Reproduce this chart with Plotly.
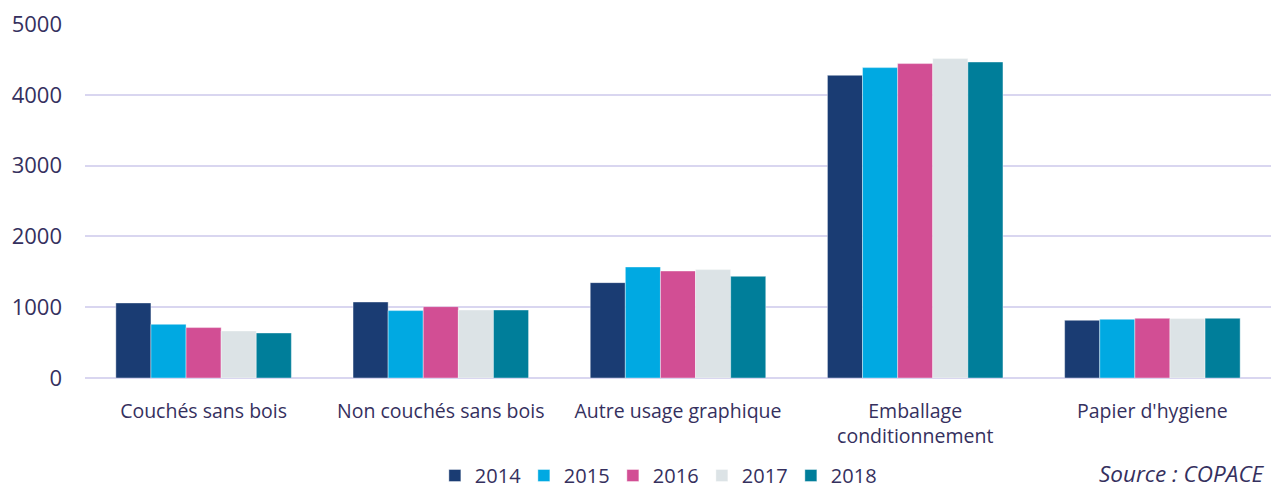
import plotly.graph_objects as go

categories = ["Couchés sans bois", "Non couchés sans bois", "Autre usage graphique",
              "Emballage<br>conditionnement", "Papier d'hygiene"]
years = ["2014", "2015", "2016", "2017", "2018"]
values_2014 = [1060, 1073, 1347, 4275, 815]
values_2015 = [758, 952, 1568, 4384, 829]
values_2016 = [712, 1008, 1511, 4441, 843]
values_2017 = [664, 960, 1531, 4511, 839]
values_2018 = [636, 960, 1436, 4463, 843]
series = [values_2014, values_2015, values_2016, values_2017, values_2018]
colors = ["#1a3c73", "#00a9e2", "#d24e94", "#dce3e6", "#007e9a"]
tick_vals = [0, 1000, 2000, 3000, 4000, 5000]

text_color = "#35305e"
font_family = "Open Sans, Noto Sans, sans-serif"

fig = go.Figure()
for y, vals, c in zip(years, series, colors):
    fig.add_trace(go.Bar(
        x=categories, y=vals, name=y,
        marker=dict(color=c, line=dict(color="rgba(255,255,255,0.5)", width=0.8)),
    ))

fig.update_layout(
    width=1271, height=488,
    margin=dict(l=85, r=0, t=24, b=110, autoexpand=False),
    paper_bgcolor="white", plot_bgcolor="white",
    barmode="group", bargap=0.26, bargroupgap=0,
    font=dict(family=font_family, color=text_color),
    showlegend=True,
    legend=dict(
        orientation="h", x=0.295, xanchor="left", y=-0.3305, yanchor="bottom",
        font=dict(size=20, color=text_color, family=font_family),
        traceorder="normal", itemwidth=30,
        entrywidth=44, entrywidthmode="pixels",
    ),
    xaxis=dict(
        showgrid=False, showline=False, ticks="", ticklabelstandoff=19,
        tickfont=dict(size=19.5, color=text_color),
    ),
    yaxis=dict(
        range=[0, 5000], tickvals=tick_vals,
        showgrid=True, gridcolor="#d9d6f0", gridwidth=1.5,
        zeroline=True, zerolinecolor="#d9d6f0", zerolinewidth=1.5,
        showline=False, ticks="", ticklabelstandoff=22,
        tickfont=dict(size=22, color=text_color),
    ),
    annotations=[dict(
        text="<i>Source : COPACE</i>", xref="paper", yref="paper",
        x=0.997, xanchor="right", y=-0.27, yanchor="middle", showarrow=False,
        font=dict(size=22.5, color=text_color, family=font_family),
    )],
)

fig.write_html(
    "out.html",
    config={"displayModeBar": False},
    post_script="document.body.style.margin='0';document.body.style.overflow='hidden';",
)
